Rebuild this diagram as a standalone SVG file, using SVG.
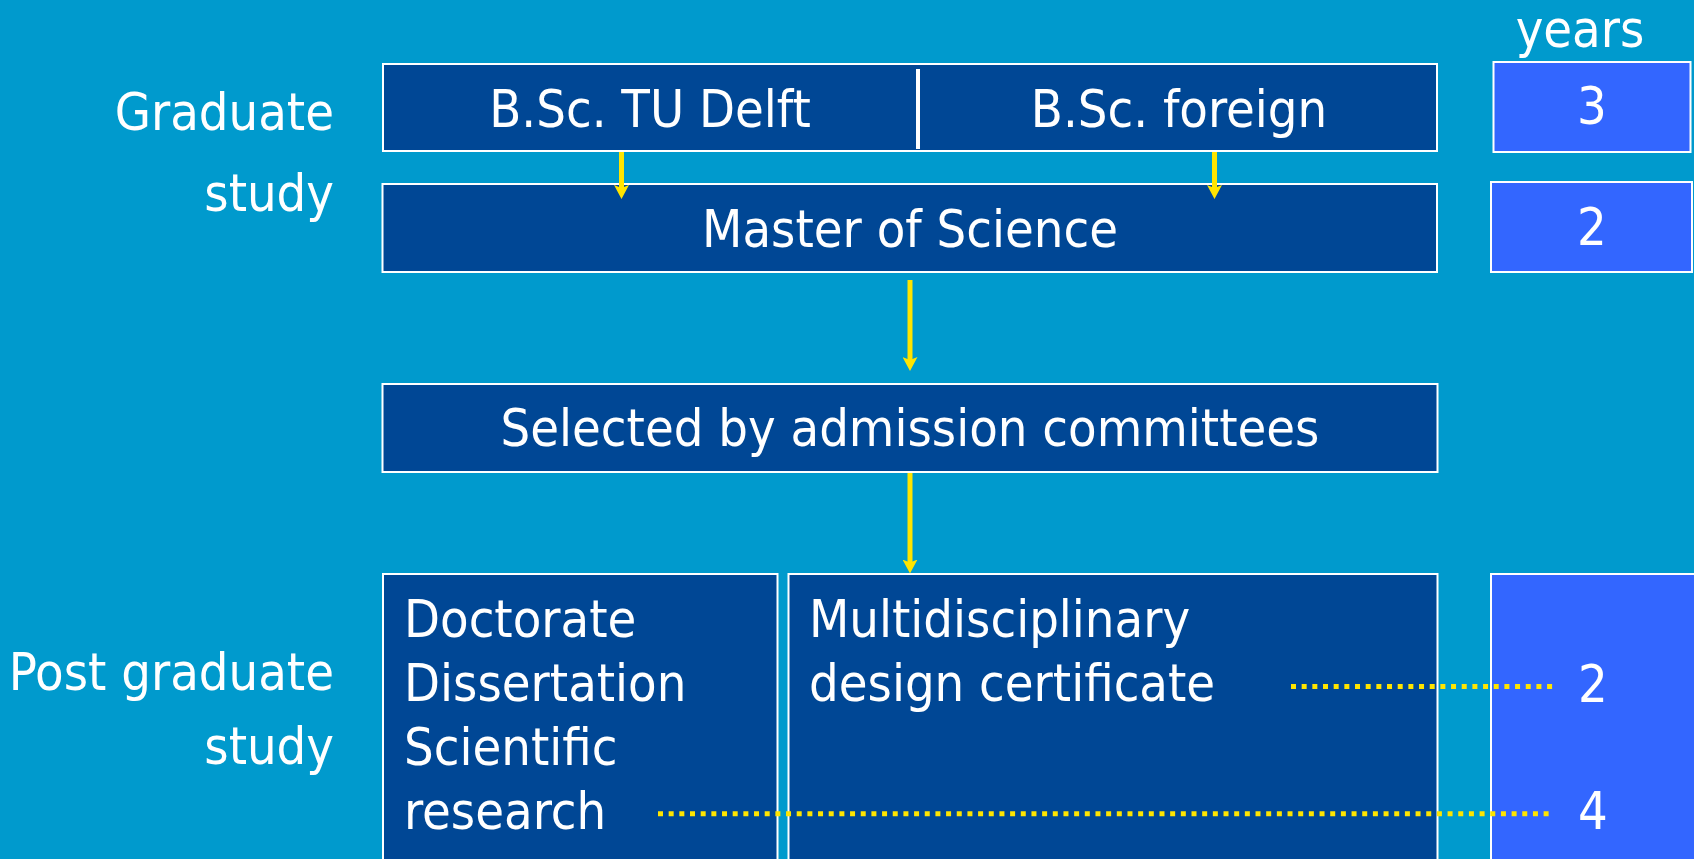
<svg xmlns="http://www.w3.org/2000/svg" width="1694" height="859" viewBox="0 0 1694 859">
<defs>
<style>
.bg{fill:#009ACD}
.box{fill:#004795;stroke:#FFFFFF;stroke-width:2}
.yr{fill:#3366FF;stroke:#FFFFFF;stroke-width:2}
.t{font-family:'DejaVu Sans Condensed','DejaVu Sans',sans-serif;font-stretch:condensed;font-size:52px;fill:#FFFFFF}
.m{text-anchor:middle}
.e{text-anchor:end}
.arr{stroke:#FFE500;stroke-width:5;fill:none}
.dot{stroke:#FFE500;stroke-width:5;fill:none;stroke-dasharray:5 5.67}
</style>
<marker id="head" viewBox="0 0 14 15" refX="4" refY="7.5" markerWidth="14" markerHeight="15" markerUnits="userSpaceOnUse" orient="auto">
<path d="M0,0 L14,7.5 L0,15 L3,7.5 z" fill="#FFE500"/>
</marker>
</defs>
<rect class="bg" x="0" y="0" width="1694" height="859"/>

<g id="labels">
<text class="t m" x="1580" y="47">years</text>
<text class="t e" x="334" y="130">Graduate</text>
<text class="t e" x="334" y="211">study</text>
<text class="t e" x="334" y="690">Post graduate</text>
<text class="t e" x="334" y="764">study</text>
</g>

<g id="bsc">
<rect class="box" x="383" y="64" width="1054" height="87"/>
<line x1="918" y1="69" x2="918" y2="149" stroke="#FFFFFF" stroke-width="4"/>
<text class="t m" x="650" y="127">B.Sc. TU Delft</text>
<text class="t m" x="1179" y="127">B.Sc. foreign</text>
</g>

<g id="master">
<rect class="box" x="382.5" y="184" width="1054.5" height="88"/>
<text class="t m" x="910" y="247">Master of Science</text>
</g>

<g id="selected">
<rect class="box" x="382.5" y="384" width="1055" height="88"/>
<text class="t m" x="910" y="446">Selected by admission committees</text>
</g>

<g id="doctorate">
<rect class="box" x="383" y="574" width="394.5" height="400"/>
<text class="t" x="404" y="637">Doctorate</text>
<text class="t" x="404" y="701">Dissertation</text>
<text class="t" x="404" y="765">Scientific</text>
<text class="t" x="404" y="829">research</text>
</g>

<g id="multidisciplinary">
<rect class="box" x="788.5" y="574" width="649" height="400"/>
<text class="t" x="809" y="637">Multidisciplinary</text>
<text class="t" x="809" y="701">design certificate</text>
</g>

<g id="years-bsc">
<rect class="yr" x="1493.5" y="62" width="197" height="90"/>
<text class="t m" x="1592" y="124">3</text>
</g>

<g id="years-msc">
<rect class="yr" x="1491" y="182" width="201" height="90"/>
<text class="t m" x="1592" y="245">2</text>
</g>

<g id="years-post">
<rect class="yr" x="1491" y="574" width="220" height="400"/>
<text class="t m" x="1593" y="702">2</text>
<text class="t m" x="1593" y="829">4</text>
</g>

<g id="connectors">
<line class="arr" x1="621.5" y1="152" x2="621.5" y2="189" marker-end="url(#head)"/>
<line class="arr" x1="1214.5" y1="152" x2="1214.5" y2="189" marker-end="url(#head)"/>
<line class="arr" x1="910" y1="280" x2="910" y2="361" marker-end="url(#head)"/>
<line class="arr" x1="910" y1="473" x2="910" y2="563.5" marker-end="url(#head)"/>
<line class="dot" x1="1291" y1="686.5" x2="1553" y2="686.5"/>
<line class="dot" x1="658" y1="813.7" x2="1554" y2="813.7"/>
</g>
</svg>
